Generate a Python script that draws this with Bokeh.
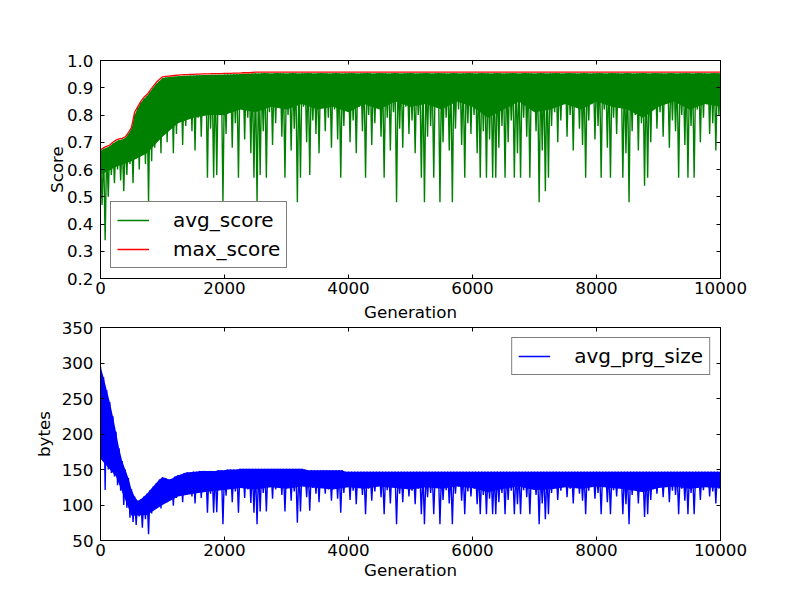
from bokeh.plotting import figure
from bokeh.layouts import column
from bokeh.models import Legend, LegendItem, LinearAxis, FixedTicker, PrintfTickFormatter, Range1d
from bokeh.embed import file_html
from bokeh.resources import INLINE

FONT = "DejaVu Sans"
FS = "16.7px"

# x samples (generations)
gen_peak = list(range(0, 10001, 50))
gen_dip = list(range(25, 10000, 50))
gen_floor = list(range(0, 10001, 250))
x_ticks = [0, 2000, 4000, 6000, 8000, 10000]
score_ticks = [0.2, 0.3, 0.4, 0.5, 0.6, 0.7, 0.8, 0.9, 1.0]
bytes_ticks = [50, 100, 150, 200, 250, 300, 350]

max_score = [
    0.672, 0.680, 0.685, 0.690, 0.700, 0.708, 0.712, 0.714, 0.720, 0.735,
    0.755, 0.810, 0.830, 0.850, 0.865, 0.875, 0.890, 0.905, 0.920, 0.930,
    0.940, 0.942, 0.943, 0.944, 0.945, 0.946, 0.947, 0.948, 0.948, 0.949,
    0.949, 0.950, 0.950, 0.951, 0.951, 0.951, 0.952, 0.952, 0.952, 0.952,
    0.953, 0.953, 0.953, 0.954, 0.954, 0.954, 0.955, 0.955, 0.955, 0.956,
    0.957, 0.957, 0.957, 0.957, 0.957, 0.957, 0.957, 0.957, 0.957, 0.957,
    0.957, 0.957, 0.957, 0.957, 0.957, 0.957, 0.957, 0.957, 0.957, 0.957,
    0.957, 0.957, 0.957, 0.957, 0.957, 0.957, 0.957, 0.957, 0.957, 0.957,
    0.957, 0.957, 0.957, 0.957, 0.957, 0.957, 0.957, 0.957, 0.957, 0.957,
    0.957, 0.957, 0.957, 0.957, 0.957, 0.957, 0.957, 0.957, 0.957, 0.957,
    0.957, 0.957, 0.957, 0.957, 0.957, 0.957, 0.957, 0.957, 0.957, 0.957,
    0.957, 0.957, 0.957, 0.957, 0.957, 0.957, 0.957, 0.957, 0.957, 0.957,
    0.957, 0.957, 0.957, 0.957, 0.957, 0.957, 0.957, 0.957, 0.957, 0.957,
    0.957, 0.957, 0.957, 0.957, 0.957, 0.957, 0.957, 0.957, 0.957, 0.957,
    0.957, 0.957, 0.957, 0.957, 0.957, 0.957, 0.957, 0.957, 0.957, 0.957,
    0.957, 0.957, 0.957, 0.957, 0.957, 0.957, 0.957, 0.957, 0.957, 0.957,
    0.957, 0.957, 0.957, 0.957, 0.957, 0.957, 0.957, 0.957, 0.957, 0.957,
    0.957, 0.957, 0.957, 0.957, 0.957, 0.957, 0.957, 0.957, 0.957, 0.957,
    0.957, 0.957, 0.957, 0.957, 0.957, 0.957, 0.957, 0.957, 0.957, 0.957,
    0.957, 0.957, 0.957, 0.957, 0.957, 0.957, 0.957, 0.957, 0.957, 0.957,
    0.957,
]

avg_peak = [
    0.668, 0.676, 0.680, 0.686, 0.695, 0.703, 0.708, 0.710, 0.716, 0.730,
    0.750, 0.800, 0.825, 0.845, 0.860, 0.870, 0.885, 0.900, 0.915, 0.925,
    0.935, 0.938, 0.939, 0.940, 0.941, 0.942, 0.943, 0.944, 0.944, 0.945,
    0.945, 0.946, 0.946, 0.947, 0.947, 0.947, 0.948, 0.948, 0.948, 0.948,
    0.949, 0.949, 0.949, 0.950, 0.950, 0.950, 0.951, 0.951, 0.951, 0.952,
    0.953, 0.952, 0.953, 0.954, 0.953, 0.952, 0.953, 0.954, 0.953, 0.953,
    0.952, 0.953, 0.954, 0.953, 0.952, 0.953, 0.953, 0.954, 0.953, 0.952,
    0.953, 0.954, 0.953, 0.953, 0.952, 0.953, 0.954, 0.953, 0.952, 0.953,
    0.953, 0.954, 0.953, 0.952, 0.953, 0.953, 0.954, 0.953, 0.952, 0.953,
    0.954, 0.953, 0.953, 0.952, 0.953, 0.954, 0.953, 0.952, 0.953, 0.953,
    0.954, 0.953, 0.952, 0.953, 0.953, 0.954, 0.953, 0.952, 0.953, 0.954,
    0.953, 0.953, 0.952, 0.953, 0.954, 0.953, 0.952, 0.953, 0.953, 0.954,
    0.953, 0.952, 0.953, 0.954, 0.953, 0.953, 0.952, 0.953, 0.954, 0.953,
    0.952, 0.953, 0.953, 0.954, 0.953, 0.952, 0.953, 0.954, 0.953, 0.953,
    0.952, 0.953, 0.954, 0.953, 0.952, 0.953, 0.953, 0.954, 0.953, 0.952,
    0.953, 0.954, 0.953, 0.953, 0.952, 0.953, 0.954, 0.953, 0.952, 0.953,
    0.953, 0.954, 0.953, 0.952, 0.953, 0.954, 0.953, 0.953, 0.952, 0.953,
    0.954, 0.953, 0.952, 0.953, 0.953, 0.954, 0.953, 0.952, 0.953, 0.954,
    0.953, 0.953, 0.952, 0.953, 0.954, 0.953, 0.952, 0.953, 0.953, 0.954,
    0.953, 0.952, 0.953, 0.954, 0.953, 0.953, 0.952, 0.953, 0.954, 0.953,
    0.953,
]

avg_dip = [
    0.47, 0.34, 0.50, 0.58, 0.55, 0.60, 0.56, 0.52, 0.58, 0.62,
    0.55, 0.64, 0.60, 0.66, 0.62, 0.48, 0.63, 0.68, 0.72, 0.66,
    0.75, 0.70, 0.78, 0.66, 0.73, 0.80, 0.69, 0.76, 0.82, 0.74,
    0.67, 0.79, 0.72, 0.84, 0.57, 0.75, 0.57, 0.58, 0.80, 0.48,
    0.73, 0.82, 0.68, 0.77, 0.57, 0.85, 0.71, 0.79, 0.66, 0.57,
    0.48, 0.58, 0.74, 0.57, 0.81, 0.69, 0.77, 0.84, 0.72, 0.57,
    0.80, 0.67, 0.75, 0.48, 0.57, 0.83, 0.70, 0.58, 0.78, 0.73,
    0.66, 0.86, 0.74, 0.79, 0.68, 0.82, 0.71, 0.57, 0.76, 0.85,
    0.70, 0.78, 0.66, 0.83, 0.74, 0.57, 0.80, 0.69, 0.77, 0.84,
    0.72, 0.57, 0.79, 0.67, 0.81, 0.48, 0.75, 0.68, 0.83, 0.73,
    0.78, 0.66, 0.80, 0.57, 0.48, 0.72, 0.76, 0.57, 0.84, 0.48,
    0.70, 0.79, 0.67, 0.48, 0.75, 0.82, 0.69, 0.57, 0.77, 0.73,
    0.80, 0.66, 0.57, 0.74, 0.57, 0.71, 0.57, 0.57, 0.68, 0.76,
    0.57, 0.70, 0.78, 0.57, 0.66, 0.57, 0.79, 0.72, 0.57, 0.83,
    0.74, 0.48, 0.67, 0.52, 0.57, 0.76, 0.81, 0.70, 0.78, 0.85,
    0.72, 0.80, 0.67, 0.83, 0.75, 0.69, 0.57, 0.78, 0.84, 0.71,
    0.76, 0.57, 0.82, 0.68, 0.57, 0.79, 0.73, 0.85, 0.57, 0.66,
    0.48, 0.74, 0.80, 0.67, 0.77, 0.54, 0.57, 0.70, 0.83, 0.75,
    0.81, 0.72, 0.86, 0.68, 0.78, 0.74, 0.57, 0.80, 0.69, 0.57,
    0.76, 0.57, 0.82, 0.70, 0.79, 0.84, 0.73, 0.77, 0.67, 0.80,
]

# lower edge of the densely filled part of the avg_score trace
avg_floor = [
    0.58, 0.61, 0.63, 0.66, 0.72, 0.77, 0.79, 0.80, 0.80, 0.82,
    0.81, 0.83, 0.82, 0.84, 0.82, 0.83, 0.81, 0.84, 0.82, 0.85,
    0.83, 0.84, 0.82, 0.85, 0.83, 0.79, 0.82, 0.85, 0.81, 0.82,
    0.84, 0.82, 0.85, 0.83, 0.82, 0.79, 0.83, 0.85, 0.82, 0.84,
    0.83,
]

size_peak = [
    295, 280, 262, 245, 225, 203, 180, 162, 150, 138,
    122, 112, 106, 108, 112, 116, 121, 126, 131, 136,
    139, 138, 136, 137, 140, 142, 143, 145, 146, 146,
    147, 147, 148, 148, 148, 148, 148, 148, 149, 149,
    149, 150, 150, 150, 150, 151, 151, 151, 151, 151,
    151, 151, 151, 151, 151, 151, 151, 151, 151, 151,
    151, 151, 151, 151, 151, 151, 150, 149, 149, 149,
    149, 149, 149, 149, 149, 149, 149, 149, 149, 147,
    147, 147, 147, 147, 147, 147, 147, 147, 147, 147,
    147, 147, 147, 147, 147, 147, 147, 147, 147, 147,
    147, 147, 147, 147, 147, 147, 147, 147, 147, 147,
    147, 147, 147, 147, 147, 147, 147, 147, 147, 147,
    147, 147, 147, 147, 147, 147, 147, 147, 147, 147,
    147, 147, 147, 147, 147, 147, 147, 147, 147, 147,
    147, 147, 147, 147, 147, 147, 147, 147, 147, 147,
    147, 147, 147, 147, 147, 147, 147, 147, 147, 147,
    147, 147, 147, 147, 147, 147, 147, 147, 147, 147,
    147, 147, 147, 147, 147, 147, 147, 147, 147, 147,
    147, 147, 147, 147, 147, 147, 147, 147, 147, 147,
    147, 147, 147, 147, 147, 147, 147, 147, 147, 147,
    147,
]

size_dip = [
    165, 121, 150, 145, 140, 128, 120, 100, 96, 82,
    76, 72, 84, 68, 80, 59, 88, 96, 102, 95,
    110, 104, 116, 99, 110, 120, 104, 115, 124, 112,
    102, 121, 110, 130, 89, 116, 89, 90, 124, 73,
    113, 127, 104, 119, 89, 132, 110, 122, 103, 89,
    73, 91, 117, 91, 128, 109, 122, 133, 114, 91,
    127, 106, 119, 75, 91, 131, 111, 92, 124, 116,
    104, 134, 116, 122, 106, 126, 109, 89, 117, 131,
    107, 120, 101, 128, 114, 87, 123, 106, 119, 129,
    111, 87, 121, 102, 125, 73, 116, 104, 128, 112,
    120, 101, 123, 87, 73, 111, 117, 87, 129, 73,
    107, 121, 102, 73, 116, 126, 106, 87, 119, 112,
    123, 101, 87, 114, 87, 109, 87, 87, 104, 117,
    87, 107, 120, 87, 101, 87, 121, 111, 87, 128,
    114, 73, 102, 80, 87, 117, 125, 107, 120, 131,
    111, 123, 102, 128, 116, 106, 87, 120, 129, 109,
    117, 87, 126, 104, 87, 121, 112, 131, 87, 101,
    73, 114, 123, 102, 119, 83, 87, 107, 128, 116,
    125, 111, 134, 104, 120, 114, 87, 123, 106, 87,
    117, 87, 126, 107, 121, 129, 112, 119, 102, 123,
]

# lower edge of the densely filled part of the avg_prg_size trace
size_floor = [
    165, 140, 85, 86, 100, 112, 116, 119, 121, 124,
    122, 125, 123, 126, 124, 122, 125, 123, 126, 124,
    122, 125, 123, 126, 124, 118, 123, 126, 121, 122,
    125, 123, 126, 124, 122, 118, 124, 126, 123, 125,
    124,
]


def zigzag(peaks, dips):
    xs, ys = [], []
    for k in range(len(dips)):
        xs.extend([gen_peak[k], gen_dip[k]])
        ys.extend([peaks[k], dips[k]])
    xs.append(gen_peak[-1])
    ys.append(peaks[-1])
    return xs, ys


def dense_band(peaks, floor):
    return gen_peak + gen_floor[::-1], peaks + floor[::-1]


def style_axis(ax, ticks, fmt, show_labels=True):
    ax.ticker = FixedTicker(ticks=ticks)
    ax.formatter = PrintfTickFormatter(format=fmt)
    ax.major_tick_in = 4
    ax.major_tick_out = 0
    ax.minor_tick_in = 0
    ax.minor_tick_out = 0
    ax.major_tick_line_color = "black"
    ax.axis_line_color = "black"
    ax.major_label_text_font = FONT
    ax.major_label_text_color = "black"
    ax.axis_label_text_font = FONT
    ax.axis_label_text_font_style = "normal"
    ax.axis_label_text_font_size = FS
    ax.axis_label_text_color = "black"
    if show_labels:
        ax.major_label_text_font_size = FS
    else:
        ax.major_label_text_font_size = "1px"
        ax.major_label_text_color = None
        ax.major_label_standoff = 0


def make_fig(y0, y1, yticks, yfmt, ylabel, height, top, bottom, ylabstand, xlabel_below, xlabel_above):
    p = figure(width=800, height=height, x_range=Range1d(0, 10000), y_range=Range1d(y0, y1),
               output_backend="svg", toolbar_location=None, title=None,
               min_border_left=100, min_border_right=80, min_border_top=top, min_border_bottom=bottom,
               y_axis_label=ylabel)
    p.grid.visible = False
    p.outline_line_color = "black"
    p.outline_line_width = 1
    p.outline_line_alpha = 1
    p.background_fill_color = "white"
    p.border_fill_color = "white"
    style_axis(p.xaxis[0], x_ticks, "%d")
    p.xaxis[0].major_label_standoff = 3
    if xlabel_below:
        p.xaxis[0].axis_label = xlabel_below
        p.xaxis[0].axis_label_standoff = 1
    style_axis(p.yaxis[0], yticks, yfmt)
    p.yaxis[0].major_label_standoff = 7
    p.yaxis[0].axis_label_standoff = ylabstand
    ra = LinearAxis()
    style_axis(ra, yticks, yfmt, show_labels=False)
    p.add_layout(ra, "right")
    ta = LinearAxis()
    style_axis(ta, x_ticks, "%d", show_labels=False)
    if xlabel_above:
        ta.axis_label = xlabel_above
        ta.axis_label_standoff = 6
    p.add_layout(ta, "above")
    return p


def style_legend(leg):
    leg.label_text_font = FONT
    leg.label_text_font_size = "20px"
    leg.label_text_color = "black"
    leg.border_line_color = "black"
    leg.border_line_width = 1
    leg.background_fill_color = "white"
    leg.background_fill_alpha = 1
    leg.glyph_width = 32
    leg.glyph_height = 20
    leg.label_height = 20
    leg.label_standoff = 24
    leg.padding = 6
    leg.spacing = 5
    leg.margin = 10


# --- top: scores
p1 = make_fig(0.2, 1.0, score_ticks, "%.1f", "Score", 298, 60, 20, -3, None, None)
bx1, by1 = dense_band(avg_peak, avg_floor)
p1.patch(bx1, by1, fill_color="#008000", line_color=None)
ax_x, ax_y = zigzag(avg_peak, avg_dip)
g = p1.line(ax_x, ax_y, line_color="#008000", line_width=1.4)
r = p1.line(gen_peak, max_score, line_color="#ff0000", line_width=1.3)
leg1 = Legend(items=[LegendItem(label="avg_score", renderers=[g]),
                     LegendItem(label="max_score", renderers=[r])],
              location="bottom_left")
style_legend(leg1)
p1.add_layout(leg1)

# --- bottom: program size (its top axis carries the upper panel's x label)
p2 = make_fig(50, 350, bytes_ticks, "%d", "bytes", 286, 24, 44, 5, "Generation", "Generation")
bx2, by2 = dense_band(size_peak, size_floor)
p2.patch(bx2, by2, fill_color="#0000ff", line_color=None)
sx, sy = zigzag(size_peak, size_dip)
b = p2.line(sx, sy, line_color="#0000ff", line_width=1.4)
leg2 = Legend(items=[LegendItem(label="avg_prg_size", renderers=[b])], location="top_right")
style_legend(leg2)
p2.add_layout(leg2)

layout = column(p1, p2, spacing=0)
open("out.html", "w").write(file_html(layout, INLINE))
